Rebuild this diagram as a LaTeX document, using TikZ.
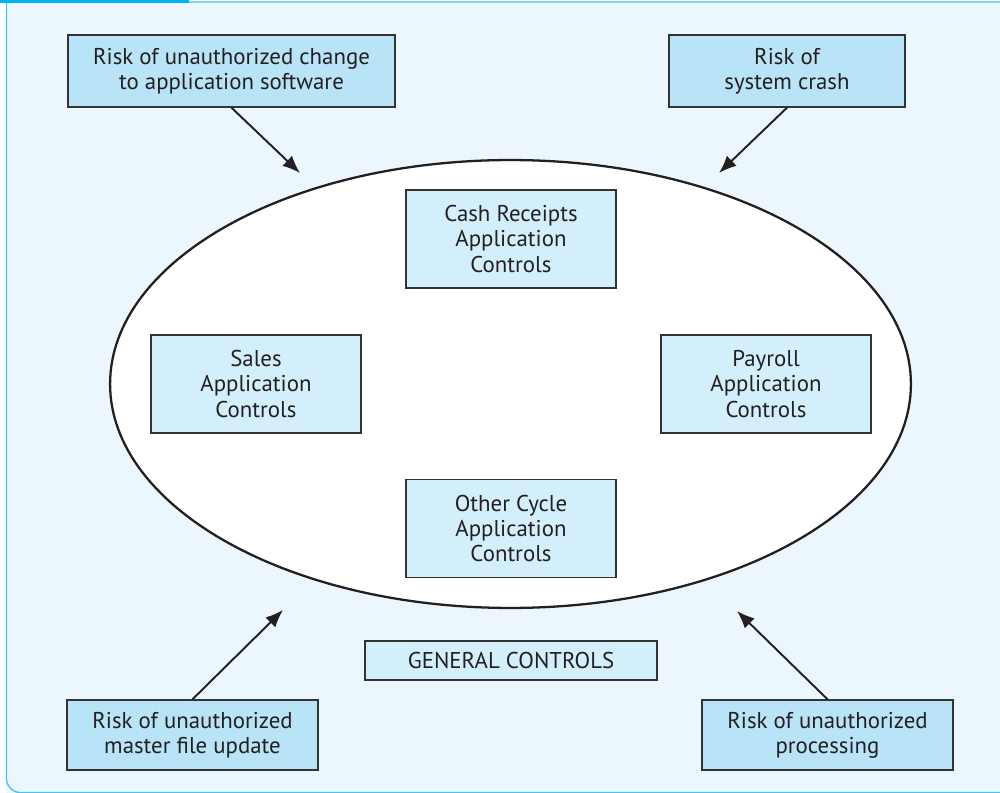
\documentclass[tikz,border=0pt]{standalone}
\usepackage{fontspec}
\setmainfont{PT Sans}
\usepackage{tikz}
\usetikzlibrary{arrows.meta, shapes.geometric}
\definecolor{panelbg}{HTML}{ECF7FD}
\definecolor{riskfill}{HTML}{B9E4F8}
\definecolor{ctrlfill}{HTML}{D4EFFC}
\definecolor{tabblue}{HTML}{00B2EE}
\definecolor{edgeblue}{HTML}{4CC3EE}
\definecolor{boxline}{HTML}{333333}
\definecolor{inktext}{HTML}{231F20}

\begin{document}
\begin{tikzpicture}[x=0.02cm, y=-0.02cm,
    box/.style={draw=boxline, line width=0.8pt, align=center, inner sep=0pt, text=inktext,
        font=\fontsize{13}{14.4}\selectfont},
    riskbox/.style={box, fill=riskfill},
    ctrlbox/.style={box, fill=ctrlfill, minimum width=4.2cm, minimum height=1.96cm},
    riskarrow/.style={-{Latex[length=10pt, width=8pt]}, line width=1.1pt, inktext}]
        % Panel
        \useasboundingbox (0,0) rectangle (1000,793);
        \fill[panelbg] (6,3) rectangle (1000,793);
        \draw[edgeblue, line width=0.8pt, rounded corners=8] (6.5,3) -- (6.5,792.6) -- (1000,792.6);
        \fill[tabblue] (0,0) rectangle (189,3.5);
        \fill[edgeblue!70] (189,1) rectangle (1000,3.5);

        % General controls ellipse
        \node[ellipse, draw=inktext, line width=1.3pt, fill=white, minimum width=16.02cm, minimum height=8.96cm] (gc) at (510.5,384) {};

        % Application controls
        \node[ctrlbox] (cash) at (511,239) {Cash Receipts\\Application\\Controls};
        \node[ctrlbox] (sales) at (256,384) {Sales\\Application\\Controls};
        \node[ctrlbox] (payroll) at (766,384) {Payroll\\Application\\Controls};
        \node[ctrlbox] (other) at (511,528.5) {Other Cycle\\Application\\Controls};
        \node[box, fill=ctrlfill, minimum width=5.84cm, minimum height=0.78cm] (general) at (511,660.5) {GENERAL CONTROLS};

        % Risks
        \node[riskbox, minimum width=6.54cm, minimum height=1.44cm] (change) at (231.5,71) {Risk of unauthorized change\\to application software};
        \node[riskbox, minimum width=4.72cm, minimum height=1.44cm] (crash) at (787,71) {Risk of\\system crash};
        \node[riskbox, minimum width=5.02cm, minimum height=1.4cm] (master) at (192.5,735) {Risk of unauthorized\\master file update};
        \node[riskbox, minimum width=5.02cm, minimum height=1.4cm] (processing) at (827.5,735) {Risk of unauthorized\\processing};

        % Arrow tips
        \coordinate (tipchange) at (300,173);
        \coordinate (tipcrash) at (719,173);
        \coordinate (tipmaster) at (283,610);
        \coordinate (tipprocessing) at (737,611);

        % Arrows
        \draw[riskarrow] (change.south) -- (tipchange);
        \draw[riskarrow] (crash.south) -- (tipcrash);
        \draw[riskarrow] (master.north) -- (tipmaster);
        \draw[riskarrow] (processing.north) -- (tipprocessing);
    \end{tikzpicture}
\end{document}
